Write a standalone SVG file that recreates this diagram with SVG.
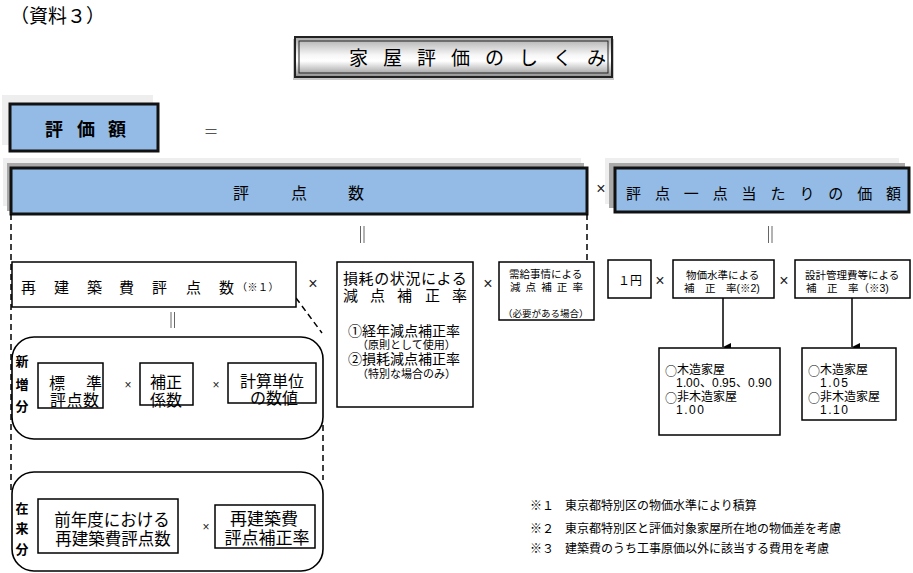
<svg xmlns="http://www.w3.org/2000/svg" width="913" height="573" viewBox="0 0 913 573">
<defs>
<linearGradient id="gTitle" x1="0" y1="0" x2="0" y2="1">
<stop offset="0" stop-color="#a8a8a8"/>
<stop offset="0.45" stop-color="#f6f6f6"/>
<stop offset="0.6" stop-color="#ffffff"/>
<stop offset="1" stop-color="#8e8e8e"/>
</linearGradient>
<marker id="arr" markerUnits="userSpaceOnUse" markerWidth="10" markerHeight="10" refX="5" refY="9" orient="auto-start-reverse" viewBox="0 0 10 10">
<path d="M1,1 L9,1 L5,9 Z" fill="#000"/>
</marker>
<style>
text{font-family:"Liberation Sans","Noto Sans CJK JP",sans-serif;dominant-baseline:central;fill:#000}
tspan{dominant-baseline:central}
.cjk{font-family:"Noto Sans CJK JP",sans-serif}
.blue{fill:#93bbe5;stroke:#111;stroke-width:3}
.sh1{fill:#eeeeee}
.sh2{fill:#a9a9a9}
.box{fill:#fff;stroke:#000;stroke-width:1.5}
.rbox{fill:#fff;stroke:#000;stroke-width:1.6}
.dash{stroke:#000;stroke-width:1.5;stroke-dasharray:6 4;fill:none}
.eq{stroke:#666;stroke-width:1;fill:none}
.x{font-family:"Liberation Sans",sans-serif;font-size:16px;fill:#222;text-anchor:middle}
.xs{font-family:"Liberation Sans",sans-serif;font-size:12px;fill:#222;text-anchor:middle}
.mid{text-anchor:middle}
.b{font-weight:bold}
</style>
</defs>

<g id="header">
<text x="10" y="16" font-size="19">（資料３）</text>
</g>

<g id="title">
<rect x="293" y="39" width="321" height="41" fill="#c8c8c8"/>
<rect x="295" y="37" width="317" height="40" fill="url(#gTitle)" stroke="#222" stroke-width="2"/>
<rect x="299" y="41" width="309" height="32" fill="none" stroke="#222" stroke-width="1"/>
<text x="349 383 417 451 485 519 553 587" y="58" font-size="19">家屋評価のしくみ</text>
</g>

<g id="hyoukagaku">
<rect class="sh1" x="2" y="95" width="151" height="50"/>
<rect class="blue" x="10" y="104" width="148" height="47"/>
<text x="45 77 108" y="130" font-size="18" class="b">評価額</text>
</g>
<text x="211" y="131" font-size="15" class="mid" style="fill:#555">＝</text>

<g id="hyoutensu">
<rect class="sh1" x="3" y="158" width="578" height="48"/>
<rect class="sh2" x="7" y="163" width="577" height="48"/>
<rect class="blue" x="11" y="168" width="576" height="46"/>
<text x="233 291 348" y="193" font-size="16">評点数</text>
</g>
<text class="x" x="601" y="188">×</text>

<g id="ittenatari">
<rect class="sh1" x="605" y="158" width="294" height="46"/>
<rect class="sh2" x="609" y="163" width="296" height="45"/>
<rect class="blue" x="615" y="168" width="294" height="44"/>
<text x="626 654.9 683.8 712.7 741.6 770.5 799.4 828.3 857.2 886.1" y="193" font-size="15">評点一点当たりの価額</text>
</g>

<g id="connectors">
<path class="dash" d="M11,214 V490"/>
<path class="dash" d="M587,214 V262"/>
<path class="dash" d="M296,298 L322,333"/>
<path class="dash" d="M323,425 V480"/>
<path class="eq" d="M360.5,226 V243 M364,226 V243"/>
<path class="eq" d="M768.5,226 V243 M772,226 V243"/>
<path class="eq" d="M171,312 V328 M174.5,312 V328"/>
<path d="M723,298 V347" stroke="#000" stroke-width="1.5" marker-end="url(#arr)"/>
<path d="M852,298 V347" stroke="#000" stroke-width="1.5" marker-end="url(#arr)"/>
</g>

<g id="saikenchiku">
<rect class="box" x="12" y="262" width="284" height="45"/>
<text y="287" font-size="15"><tspan x="21 54 87 119 152 186 219">再建築費評点数</tspan><tspan x="237" font-size="10" letter-spacing="0.5">（※１）</tspan></text>
</g>
<text class="x" x="313" y="283">×</text>

<g id="sonmou">
<rect class="box" x="337" y="262" width="136" height="145"/>
<text font-size="15"><tspan x="343" y="278" letter-spacing="0.6">損耗の状況による</tspan><tspan x="343 370 397 425 452" y="295">減点補正率</tspan><tspan x="348" y="331" font-size="14">①経年減点補正率</tspan><tspan x="357" y="344.5" font-size="11">（原則として使用）</tspan><tspan x="348" y="359" font-size="14">②損耗減点補正率</tspan><tspan x="357" y="373.5" font-size="11">（特別な場合のみ）</tspan></text>
</g>
<text class="x" x="488" y="283">×</text>

<g id="jukyu">
<rect class="box" x="499" y="262" width="95" height="58"/>
<text font-size="10.5"><tspan x="509" y="274">需給事情による</tspan><tspan x="510 525.6 541.2 556.8 572.4" y="287">減点補正率</tspan><tspan x="503" y="312.5" font-size="9.5">（必要がある場合）</tspan></text>
</g>

<g id="ichien">
<rect class="box" x="608" y="260" width="43" height="38"/>
<text x="630" y="280.5" font-size="12" class="mid">１円</text>
</g>
<text class="x" x="660" y="280">×</text>

<g id="bukka">
<rect class="box" x="673" y="260" width="101" height="38"/>
<text font-size="10.5"><tspan x="686" y="274.5">物価水準による</tspan><tspan x="684" y="287.5">補　正　率(※2)</tspan></text>
</g>
<text class="x" x="784" y="280">×</text>

<g id="sekkei">
<rect class="box" x="795" y="260" width="115" height="38"/>
<text font-size="10.5"><tspan x="805" y="274.5">設計管理費等による</tspan><tspan x="806" y="287.5">補　正　率（※3)</tspan></text>
</g>

<g id="bukka-values">
<rect class="box" x="659" y="348" width="121" height="87"/>
<text font-size="12"><tspan x="665" y="369.5"><tspan class="cjk">○</tspan>木造家屋</tspan><tspan x="676 683 686 693 700 712 719 722 729 736 748 755 758 765" y="382.5">1.00、0.95、0.90</tspan><tspan x="665" y="396.5"><tspan class="cjk">○</tspan>非木造家屋</tspan><tspan x="676" y="409.5" letter-spacing="1.5">1.00</tspan></text>
</g>

<g id="sekkei-values">
<rect class="box" x="802" y="348" width="94" height="72"/>
<text font-size="12"><tspan x="808" y="369.5"><tspan class="cjk">○</tspan>木造家屋</tspan><tspan x="820" y="382.5" letter-spacing="1.5">1.05</tspan><tspan x="808" y="396.5"><tspan class="cjk">○</tspan>非木造家屋</tspan><tspan x="820" y="409.5" letter-spacing="1.5">1.10</tspan></text>
</g>

<g id="shinzoubun">
<rect class="rbox" x="12" y="337" width="311" height="102" rx="22" ry="22"/>
<text font-size="13" class="b mid"><tspan x="22" y="361">新</tspan><tspan x="22" y="384">増</tspan><tspan x="22" y="406">分</tspan></text>
<rect class="box" x="38" y="363" width="65" height="45"/>
<text font-size="16"><tspan x="49 86" y="383">標準</tspan><tspan x="50" y="400" letter-spacing="0.5">評点数</tspan></text>
<text class="xs" x="128" y="385">×</text>
<rect class="box" x="140" y="363" width="53" height="42"/>
<text font-size="16" class="mid"><tspan x="166" y="382">補正</tspan><tspan x="166" y="400">係数</tspan></text>
<text class="xs" x="216" y="385">×</text>
<rect class="box" x="228" y="363" width="88" height="40"/>
<text font-size="16" class="mid"><tspan x="272" y="381">計算単位</tspan><tspan x="274" y="398">の数値</tspan></text>
</g>

<g id="zairaibun">
<rect class="rbox" x="12" y="472" width="311" height="99" rx="22" ry="22"/>
<text font-size="13" class="b mid"><tspan x="22" y="508">在</tspan><tspan x="22" y="528">来</tspan><tspan x="22" y="549">分</tspan></text>
<rect class="box" x="38" y="499" width="140" height="54"/>
<text font-size="16.5" class="mid"><tspan x="112" y="520">前年度における</tspan><tspan x="113" y="539">再建築費評点数</tspan></text>
<text class="xs" x="206" y="527">×</text>
<rect class="box" x="215" y="505" width="100" height="43"/>
<text font-size="17" class="mid"><tspan x="264" y="519">再建築費</tspan><tspan x="267" y="538">評点補正率</tspan></text>
</g>

<g id="notes">
<text x="530" y="505.5" font-size="12">※１</text>
<text x="565" y="505.5" font-size="12">東京都特別区の物価水準により積算</text>
<text x="530" y="528.5" font-size="12">※２</text>
<text x="565" y="528.5" font-size="12">東京都特別区と評価対象家屋所在地の物価差を考慮</text>
<text x="530" y="548.5" font-size="12">※３</text>
<text x="565" y="548.5" font-size="12">建築費のうち工事原価以外に該当する費用を考慮</text>
</g>
</svg>
